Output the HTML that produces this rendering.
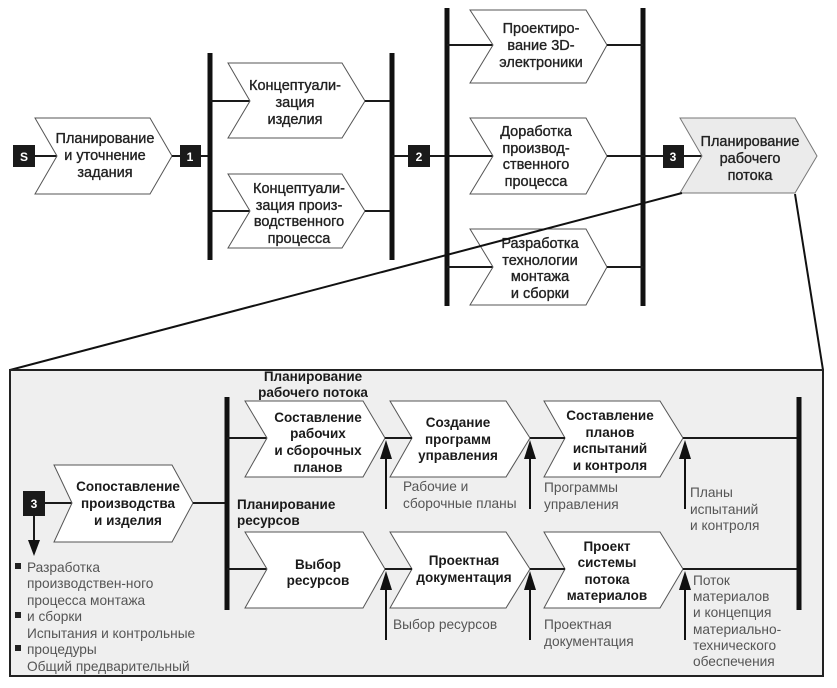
<!DOCTYPE html>
<html><head><meta charset="utf-8"><style>
html,body{margin:0;padding:0;background:#fff;}
svg{display:block;}
.t{font-family:"Liberation Sans",sans-serif;font-size:14.5px;fill:#222;text-anchor:middle;stroke:#222;stroke-width:0.35px;}
.b{font-family:"Liberation Sans",sans-serif;font-size:13.5px;font-weight:bold;fill:#1a1a1a;text-anchor:middle;}
.g{font-family:"Liberation Sans",sans-serif;font-size:13.7px;fill:#555;}
.n{font-family:"Liberation Sans",sans-serif;font-size:12px;font-weight:bold;fill:#fff;text-anchor:middle;}
.ch{fill:#fff;stroke:#555;stroke-width:1;}
.ln{stroke:#1a1a1a;stroke-width:2;fill:none;}
.bar{stroke:#111;stroke-width:5;}
</style></head><body>
<svg width="837" height="688" viewBox="0 0 837 688" xmlns="http://www.w3.org/2000/svg">
<defs><clipPath id="cb"><rect x="10" y="370" width="813" height="306"/></clipPath></defs>

<!-- TOP -->
<line class="ln" x1="35" y1="156" x2="57" y2="156"/>
<rect x="13" y="145" width="22" height="22" fill="#1a1a1a"/><text class="n" x="24" y="161">S</text>
<polygon class="ch" points="35,118 150,118 172,156 150,194 35,194 57,156"/>
<text class="t" x="105" y="143">Планирование</text><text class="t" x="105" y="160">и уточнение</text><text class="t" x="105" y="177">задания</text>
<line class="ln" x1="172" y1="156" x2="210" y2="156"/>
<rect x="180" y="145" width="21" height="22" fill="#1a1a1a"/><text class="n" x="190" y="161">1</text>
<line class="bar" x1="210" y1="53" x2="210" y2="260"/>
<line class="ln" x1="210" y1="101" x2="250" y2="101"/>
<line class="ln" x1="210" y1="211" x2="250" y2="211"/>
<polygon class="ch" points="228,63 342,63 365,101 342,138 228,138 250,101"/>
<text class="t" x="295" y="90">Концептуали-</text><text class="t" x="295" y="107">зация</text><text class="t" x="295" y="124">изделия</text>
<polygon class="ch" points="228,174 342,174 365,211 342,248 228,248 250,211"/>
<text class="t" x="299" y="193">Концептуали-</text><text class="t" x="299" y="210">зация произ-</text><text class="t" x="299" y="226">водственного</text><text class="t" x="299" y="243">процесса</text>
<line class="ln" x1="365" y1="101" x2="392" y2="101"/>
<line class="ln" x1="365" y1="211" x2="392" y2="211"/>
<line class="bar" x1="392" y1="53" x2="392" y2="260"/>
<line class="ln" x1="392" y1="156" x2="493" y2="156"/>
<rect x="408" y="145" width="22" height="22" fill="#1a1a1a"/><text class="n" x="419" y="161">2</text>
<line class="bar" x1="447" y1="8" x2="447" y2="306"/>
<line class="bar" x1="643" y1="8" x2="643" y2="306"/>
<line class="ln" x1="447" y1="45" x2="493" y2="45"/>
<line class="ln" x1="447" y1="267" x2="493" y2="267"/>
<polygon class="ch" points="470,10 586,10 607,45 586,83 470,83 493,45"/>
<text class="t" x="541" y="33">Проектиро-</text><text class="t" x="541" y="50">вание 3D-</text><text class="t" x="541" y="67">электроники</text>
<polygon class="ch" points="470,118 586,118 607,156 586,194 470,194 493,156"/>
<text class="t" x="536" y="136">Доработка</text><text class="t" x="536" y="153">производ-</text><text class="t" x="536" y="169">ственного</text><text class="t" x="536" y="186">процесса</text>
<polygon class="ch" points="470,229 586,229 607,267 586,305 470,305 493,267"/>
<text class="t" x="540" y="248">Разработка</text><text class="t" x="540" y="265">технологии</text><text class="t" x="540" y="281">монтажа</text><text class="t" x="540" y="298">и сборки</text>
<line class="ln" x1="607" y1="45" x2="643" y2="45"/>
<line class="ln" x1="607" y1="267" x2="643" y2="267"/>
<line class="ln" x1="607" y1="156" x2="702" y2="156"/>
<rect x="663" y="145" width="21" height="23" fill="#1a1a1a"/><text class="n" x="673" y="161">3</text>
<polygon points="680,118 795,118 817,156 795,193 680,193 702,156" fill="#ebebeb" stroke="#777" stroke-width="1"/>
<text class="t" x="750" y="146">Планирование</text><text class="t" x="750" y="163">рабочего</text><text class="t" x="750" y="180">потока</text>
<line x1="682" y1="193" x2="10" y2="370" stroke="#111" stroke-width="2"/>
<line x1="795" y1="194" x2="823" y2="370" stroke="#111" stroke-width="2"/>

<!-- BIG BOX -->
<rect x="10" y="370" width="813" height="306" fill="#efefef" stroke="#222" stroke-width="2"/>
<g clip-path="url(#cb)">
<text class="b" x="313" y="381">Планирование</text><text class="b" x="313" y="397">рабочего потока</text>
<line class="ln" x1="45" y1="503" x2="72" y2="503"/>
<rect x="23" y="491" width="22" height="25" fill="#1a1a1a"/><text class="n" x="34" y="508">3</text>
<line class="ln" x1="34" y1="516" x2="34" y2="542"/>
<polygon points="28,540 40,540 34,556" fill="#111"/>
<polygon class="ch" points="54,465 172,465 193,503 172,542 54,542 72,503"/>
<text class="b" x="128" y="491">Сопоставление</text><text class="b" x="128" y="508">производства</text><text class="b" x="128" y="525">и изделия</text>
<line class="ln" x1="193" y1="503" x2="227" y2="503"/>
<line class="bar" x1="227" y1="397" x2="227" y2="610"/>
<line class="ln" x1="227" y1="438" x2="267" y2="438"/>
<line class="ln" x1="227" y1="569" x2="267" y2="569"/>
<text class="b" x="237" y="509" style="text-anchor:start">Планирование</text><text class="b" x="237" y="525" style="text-anchor:start">ресурсов</text>

<polygon class="ch" points="245,401 363,401 385,438 363,477 245,477 267,438"/>
<text class="b" x="318" y="422">Составление</text><text class="b" x="318" y="438">рабочих</text><text class="b" x="318" y="455">и сборочных</text><text class="b" x="318" y="472">планов</text>
<polygon class="ch" points="390,401 506,401 530,438 506,477 390,477 412,438"/>
<text class="b" x="458" y="427">Создание</text><text class="b" x="458" y="444">программ</text><text class="b" x="458" y="460">управления</text>
<polygon class="ch" points="544,401 660,401 683,438 660,477 544,477 565,438"/>
<text class="b" x="610" y="420">Составление</text><text class="b" x="610" y="437">планов</text><text class="b" x="610" y="453">испытаний</text><text class="b" x="610" y="470">и контроля</text>
<line class="ln" x1="385" y1="438" x2="412" y2="438"/>
<line class="ln" x1="530" y1="438" x2="565" y2="438"/>
<line class="ln" x1="683" y1="438" x2="799" y2="438"/>

<polygon class="ch" points="245,532 363,532 385,569 363,608 245,608 267,569"/>
<text class="b" x="318" y="569">Выбор</text><text class="b" x="318" y="585">ресурсов</text>
<polygon class="ch" points="390,532 506,532 530,569 506,608 390,608 412,569"/>
<text class="b" x="464" y="565">Проектная</text><text class="b" x="464" y="582">документация</text>
<polygon class="ch" points="544,532 660,532 683,569 660,608 544,608 565,569"/>
<text class="b" x="607" y="551">Проект</text><text class="b" x="607" y="567">системы</text><text class="b" x="607" y="584">потока</text><text class="b" x="607" y="600">материалов</text>
<line class="ln" x1="385" y1="569" x2="412" y2="569"/>
<line class="ln" x1="530" y1="569" x2="565" y2="569"/>
<line class="ln" x1="683" y1="569" x2="799" y2="569"/>
<line class="bar" x1="799" y1="397" x2="799" y2="610"/>

<g stroke="#111" stroke-width="2">
<line x1="386" y1="455" x2="386" y2="509"/><line x1="530" y1="455" x2="530" y2="509"/><line x1="685" y1="455" x2="685" y2="509"/>
<line x1="386" y1="586" x2="386" y2="640"/><line x1="530" y1="586" x2="530" y2="640"/><line x1="685" y1="586" x2="685" y2="640"/>
</g>
<g fill="#111">
<polygon points="386,440 380,459 392,459"/><polygon points="530,440 524,459 536,459"/><polygon points="685,440 679,459 691,459"/>
<polygon points="386,571 380,590 392,590"/><polygon points="530,571 524,590 536,590"/><polygon points="685,571 679,590 691,590"/>
</g>

<text class="g" x="403" y="491">Рабочие и</text><text class="g" x="403" y="508">сборочные планы</text>
<text class="g" x="544" y="492">Программы</text><text class="g" x="544" y="509">управления</text>
<text class="g" x="690" y="497">Планы</text><text class="g" x="690" y="514">испытаний</text><text class="g" x="690" y="530">и контроля</text>
<text class="g" x="393" y="629">Выбор ресурсов</text>
<text class="g" x="544" y="629">Проектная</text><text class="g" x="544" y="646">документация</text>
<text class="g" x="693" y="585">Поток</text><text class="g" x="693" y="601">материалов</text><text class="g" x="693" y="617">и концепция</text><text class="g" x="693" y="634">материально-</text><text class="g" x="693" y="650">технического</text><text class="g" x="693" y="666">обеспечения</text>

<g fill="#222"><rect x="15" y="563" width="6" height="6"/><rect x="15" y="612" width="6" height="6"/><rect x="15" y="645" width="6" height="6"/></g>
<text class="g" x="27" y="572">Разработка</text>
<text class="g" x="27" y="588">производствен-ного</text>
<text class="g" x="27" y="605">процесса монтажа</text>
<text class="g" x="27" y="621">и сборки</text>
<text class="g" x="27" y="638">Испытания и контрольные</text>
<text class="g" x="27" y="654">процедуры</text>
<text class="g" x="27" y="671">Общий предварительный</text>
<text class="g" x="27" y="687">проект МИ изделия</text>
</g>
</svg>
</body></html>
